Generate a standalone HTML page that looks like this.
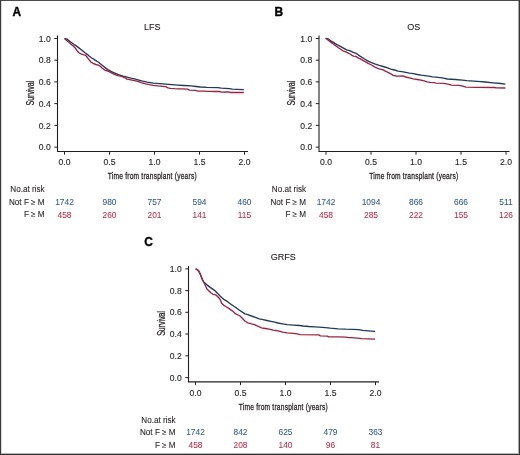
<!DOCTYPE html>
<html><head><meta charset="utf-8"><style>
html,body{margin:0;padding:0;background:#fff;}
svg{display:block;will-change:transform;font-family:"Liberation Sans",sans-serif;}
</style></head><body>
<svg width="520" height="455" viewBox="0 0 520 455">
<rect x="0" y="0" width="520" height="455" fill="#fff"/>
<text x="12.5" y="15.9" font-size="12" font-weight="bold" fill="#000" stroke="#000" stroke-width="0.35">A</text>
<text x="152.3" y="29.9" font-size="9" text-anchor="middle" fill="#231f20" stroke="#231f20" stroke-width="0.12">LFS</text>
<path d="M57.5,35.5V151.5H248" fill="none" stroke="#231f20" stroke-width="1.1"/>
<path d="M54.30,38.50H57.50" stroke="#231f20" stroke-width="1"/>
<text x="50.8" y="41.60" font-size="8.6" text-anchor="end" fill="#231f20" stroke="#231f20" stroke-width="0.12">1.0</text>
<path d="M54.30,60.20H57.50" stroke="#231f20" stroke-width="1"/>
<text x="50.8" y="63.30" font-size="8.6" text-anchor="end" fill="#231f20" stroke="#231f20" stroke-width="0.12">0.8</text>
<path d="M54.30,81.90H57.50" stroke="#231f20" stroke-width="1"/>
<text x="50.8" y="85.00" font-size="8.6" text-anchor="end" fill="#231f20" stroke="#231f20" stroke-width="0.12">0.6</text>
<path d="M54.30,103.60H57.50" stroke="#231f20" stroke-width="1"/>
<text x="50.8" y="106.70" font-size="8.6" text-anchor="end" fill="#231f20" stroke="#231f20" stroke-width="0.12">0.4</text>
<path d="M54.30,125.40H57.50" stroke="#231f20" stroke-width="1"/>
<text x="50.8" y="128.50" font-size="8.6" text-anchor="end" fill="#231f20" stroke="#231f20" stroke-width="0.12">0.2</text>
<path d="M54.30,147.20H57.50" stroke="#231f20" stroke-width="1"/>
<text x="50.8" y="150.30" font-size="8.6" text-anchor="end" fill="#231f20" stroke="#231f20" stroke-width="0.12">0.0</text>
<path d="M64.5,151.5V154.7" stroke="#231f20" stroke-width="1"/>
<text x="64.5" y="165.3" font-size="8.6" text-anchor="middle" fill="#231f20" stroke="#231f20" stroke-width="0.12">0.0</text>
<path d="M109.5,151.5V154.7" stroke="#231f20" stroke-width="1"/>
<text x="109.5" y="165.3" font-size="8.6" text-anchor="middle" fill="#231f20" stroke="#231f20" stroke-width="0.12">0.5</text>
<path d="M154.5,151.5V154.7" stroke="#231f20" stroke-width="1"/>
<text x="154.5" y="165.3" font-size="8.6" text-anchor="middle" fill="#231f20" stroke="#231f20" stroke-width="0.12">1.0</text>
<path d="M199.5,151.5V154.7" stroke="#231f20" stroke-width="1"/>
<text x="199.5" y="165.3" font-size="8.6" text-anchor="middle" fill="#231f20" stroke="#231f20" stroke-width="0.12">1.5</text>
<path d="M244.5,151.5V154.7" stroke="#231f20" stroke-width="1"/>
<text x="244.5" y="165.3" font-size="8.6" text-anchor="middle" fill="#231f20" stroke="#231f20" stroke-width="0.12">2.0</text>
<text transform="translate(152.2,179.2) scale(0.7,1)" x="0" y="0" font-size="9.5" text-anchor="middle" textLength="127.14" lengthAdjust="spacing" fill="#231f20" stroke="#231f20" stroke-width="0.3">Time from transplant (years)</text>
<text transform="translate(33.7,93.1) rotate(-90) scale(0.72,1)" x="0" y="0" font-size="10" text-anchor="middle" textLength="34.17" lengthAdjust="spacing" fill="#231f20" stroke="#231f20" stroke-width="0.28">Survival</text>
<text x="44.6" y="192.3" font-size="8.15" text-anchor="end" fill="#231f20" stroke="#231f20" stroke-width="0.08">No.at risk</text>
<text x="44.6" y="204.7" font-size="8.15" text-anchor="end" fill="#231f20" stroke="#231f20" stroke-width="0.08">Not F ≥ M</text>
<text x="44.6" y="217.1" font-size="8.15" text-anchor="end" fill="#231f20" stroke="#231f20" stroke-width="0.08">F ≥ M</text>
<text x="64.5" y="204.8" font-size="8.4" text-anchor="middle" fill="#2c5a8c" stroke="#2c5a8c" stroke-width="0.05">1742</text>
<text x="109.5" y="204.8" font-size="8.4" text-anchor="middle" fill="#2c5a8c" stroke="#2c5a8c" stroke-width="0.05">980</text>
<text x="154.5" y="204.8" font-size="8.4" text-anchor="middle" fill="#2c5a8c" stroke="#2c5a8c" stroke-width="0.05">757</text>
<text x="199.5" y="204.8" font-size="8.4" text-anchor="middle" fill="#2c5a8c" stroke="#2c5a8c" stroke-width="0.05">594</text>
<text x="244.5" y="204.8" font-size="8.4" text-anchor="middle" fill="#2c5a8c" stroke="#2c5a8c" stroke-width="0.05">460</text>
<text x="64.5" y="217.8" font-size="8.4" text-anchor="middle" fill="#c02a46" stroke="#c02a46" stroke-width="0.05">458</text>
<text x="109.5" y="217.8" font-size="8.4" text-anchor="middle" fill="#c02a46" stroke="#c02a46" stroke-width="0.05">260</text>
<text x="154.5" y="217.8" font-size="8.4" text-anchor="middle" fill="#c02a46" stroke="#c02a46" stroke-width="0.05">201</text>
<text x="199.5" y="217.8" font-size="8.4" text-anchor="middle" fill="#c02a46" stroke="#c02a46" stroke-width="0.05">141</text>
<text x="244.5" y="217.8" font-size="8.4" text-anchor="middle" fill="#c02a46" stroke="#c02a46" stroke-width="0.05">115</text>
<polyline points="64.5,38.6 66.6,38.9 69.7,41.2 72.8,43.5 75.8,45.6 78.3,47.4 80.6,49.2 82.9,51.1 85.2,53.0 87.5,54.6 89.4,56.3 91.7,58.0 94.0,59.3 95.1,60.1 98.9,62.5 100.0,63.5 103.8,66.6 107.7,69.6 111.5,71.7 115.4,73.3 119.2,74.8 123.1,76.2 126.9,77.2 130.8,78.2 134.6,78.9 138.0,79.8 142.6,81.1 147.2,82.1 153.4,83.1 159.5,83.7 165.7,84.2 171.8,84.7 178.0,85.1 183.7,85.5 191.4,85.9 196.0,86.5 200.6,87.0 206.8,87.4 217.7,87.7 221.5,88.2 229.2,88.6 232.3,89.2 236.9,89.4 243.8,89.6" fill="none" stroke="#1b3a5e" stroke-width="1.35" stroke-linejoin="round"/>
<polyline points="64.5,38.6 67.0,40.8 69.7,43.1 72.0,45.0 74.3,47.0 75.8,48.8 77.4,51.2 79.2,53.0 81.5,54.2 83.8,54.8 85.2,55.1 86.6,56.5 88.0,58.3 89.4,60.2 91.2,62.2 93.1,63.4 95.8,64.5 98.2,65.2 100.5,66.4 102.3,68.2 104.6,70.1 107.7,71.0 110.0,72.2 113.8,74.1 117.7,75.6 121.5,76.4 124.6,77.5 126.9,79.1 130.8,79.8 134.6,80.6 138.0,81.4 141.1,82.6 145.7,83.8 149.5,84.6 153.4,85.3 158.0,85.9 162.6,86.3 165.7,86.7 168.0,87.8 170.3,88.3 174.2,88.7 178.0,88.9 182.2,88.9 187.5,89.2 189.5,90.1 195.2,90.3 198.3,91.1 202.9,91.2 208.3,91.3 216.0,91.5 219.2,91.5 221.5,92.1 227.7,91.8 230.8,92.5 243.8,92.5" fill="none" stroke="#a81c3c" stroke-width="1.35" stroke-linejoin="round"/>
<text x="274.5" y="15.9" font-size="12" font-weight="bold" fill="#000" stroke="#000" stroke-width="0.35">B</text>
<text x="413.7" y="29.9" font-size="9" text-anchor="middle" fill="#231f20" stroke="#231f20" stroke-width="0.12">OS</text>
<path d="M319.0,35.5V151.5H509.5" fill="none" stroke="#231f20" stroke-width="1.1"/>
<path d="M315.80,38.50H319.00" stroke="#231f20" stroke-width="1"/>
<text x="312.3" y="41.60" font-size="8.6" text-anchor="end" fill="#231f20" stroke="#231f20" stroke-width="0.12">1.0</text>
<path d="M315.80,60.20H319.00" stroke="#231f20" stroke-width="1"/>
<text x="312.3" y="63.30" font-size="8.6" text-anchor="end" fill="#231f20" stroke="#231f20" stroke-width="0.12">0.8</text>
<path d="M315.80,81.90H319.00" stroke="#231f20" stroke-width="1"/>
<text x="312.3" y="85.00" font-size="8.6" text-anchor="end" fill="#231f20" stroke="#231f20" stroke-width="0.12">0.6</text>
<path d="M315.80,103.60H319.00" stroke="#231f20" stroke-width="1"/>
<text x="312.3" y="106.70" font-size="8.6" text-anchor="end" fill="#231f20" stroke="#231f20" stroke-width="0.12">0.4</text>
<path d="M315.80,125.40H319.00" stroke="#231f20" stroke-width="1"/>
<text x="312.3" y="128.50" font-size="8.6" text-anchor="end" fill="#231f20" stroke="#231f20" stroke-width="0.12">0.2</text>
<path d="M315.80,147.20H319.00" stroke="#231f20" stroke-width="1"/>
<text x="312.3" y="150.30" font-size="8.6" text-anchor="end" fill="#231f20" stroke="#231f20" stroke-width="0.12">0.0</text>
<path d="M326.0,151.5V154.7" stroke="#231f20" stroke-width="1"/>
<text x="326.0" y="165.3" font-size="8.6" text-anchor="middle" fill="#231f20" stroke="#231f20" stroke-width="0.12">0.0</text>
<path d="M371.0,151.5V154.7" stroke="#231f20" stroke-width="1"/>
<text x="371.0" y="165.3" font-size="8.6" text-anchor="middle" fill="#231f20" stroke="#231f20" stroke-width="0.12">0.5</text>
<path d="M416.0,151.5V154.7" stroke="#231f20" stroke-width="1"/>
<text x="416.0" y="165.3" font-size="8.6" text-anchor="middle" fill="#231f20" stroke="#231f20" stroke-width="0.12">1.0</text>
<path d="M461.0,151.5V154.7" stroke="#231f20" stroke-width="1"/>
<text x="461.0" y="165.3" font-size="8.6" text-anchor="middle" fill="#231f20" stroke="#231f20" stroke-width="0.12">1.5</text>
<path d="M506.0,151.5V154.7" stroke="#231f20" stroke-width="1"/>
<text x="506.0" y="165.3" font-size="8.6" text-anchor="middle" fill="#231f20" stroke="#231f20" stroke-width="0.12">2.0</text>
<text transform="translate(413.7,179.2) scale(0.7,1)" x="0" y="0" font-size="9.5" text-anchor="middle" textLength="127.14" lengthAdjust="spacing" fill="#231f20" stroke="#231f20" stroke-width="0.3">Time from transplant (years)</text>
<text transform="translate(295.2,93.1) rotate(-90) scale(0.72,1)" x="0" y="0" font-size="10" text-anchor="middle" textLength="34.17" lengthAdjust="spacing" fill="#231f20" stroke="#231f20" stroke-width="0.28">Survival</text>
<text x="306.1" y="192.3" font-size="8.15" text-anchor="end" fill="#231f20" stroke="#231f20" stroke-width="0.08">No.at risk</text>
<text x="306.1" y="204.7" font-size="8.15" text-anchor="end" fill="#231f20" stroke="#231f20" stroke-width="0.08">Not F ≥ M</text>
<text x="306.1" y="217.1" font-size="8.15" text-anchor="end" fill="#231f20" stroke="#231f20" stroke-width="0.08">F ≥ M</text>
<text x="326.0" y="204.8" font-size="8.4" text-anchor="middle" fill="#2c5a8c" stroke="#2c5a8c" stroke-width="0.05">1742</text>
<text x="371.0" y="204.8" font-size="8.4" text-anchor="middle" fill="#2c5a8c" stroke="#2c5a8c" stroke-width="0.05">1094</text>
<text x="416.0" y="204.8" font-size="8.4" text-anchor="middle" fill="#2c5a8c" stroke="#2c5a8c" stroke-width="0.05">866</text>
<text x="461.0" y="204.8" font-size="8.4" text-anchor="middle" fill="#2c5a8c" stroke="#2c5a8c" stroke-width="0.05">666</text>
<text x="506.0" y="204.8" font-size="8.4" text-anchor="middle" fill="#2c5a8c" stroke="#2c5a8c" stroke-width="0.05">511</text>
<text x="326.0" y="217.8" font-size="8.4" text-anchor="middle" fill="#c02a46" stroke="#c02a46" stroke-width="0.05">458</text>
<text x="371.0" y="217.8" font-size="8.4" text-anchor="middle" fill="#c02a46" stroke="#c02a46" stroke-width="0.05">285</text>
<text x="416.0" y="217.8" font-size="8.4" text-anchor="middle" fill="#c02a46" stroke="#c02a46" stroke-width="0.05">222</text>
<text x="461.0" y="217.8" font-size="8.4" text-anchor="middle" fill="#c02a46" stroke="#c02a46" stroke-width="0.05">155</text>
<text x="506.0" y="217.8" font-size="8.4" text-anchor="middle" fill="#c02a46" stroke="#c02a46" stroke-width="0.05">126</text>
<polyline points="325.6,38.3 328.0,38.8 330.7,40.8 333.8,42.7 336.8,44.6 339.9,46.2 342.6,47.6 346.6,49.8 349.7,50.6 352.8,52.2 356.6,53.7 360.0,56.1 363.8,58.5 367.7,60.8 371.5,62.7 375.4,64.2 379.2,65.4 383.1,66.5 386.9,67.7 390.8,69.1 394.6,70.0 398.0,71.1 401.8,71.6 405.7,72.4 409.5,73.2 413.4,73.7 417.2,74.5 421.1,75.2 424.9,75.7 428.8,76.2 432.6,76.8 436.0,77.2 442.2,77.8 447.5,79.0 455.2,79.5 462.2,80.2 466.8,80.7 470.0,80.8 477.7,81.4 485.4,82.0 493.1,82.8 500.8,83.5 505.4,84.1" fill="none" stroke="#1b3a5e" stroke-width="1.35" stroke-linejoin="round"/>
<polyline points="325.6,38.3 328.0,40.0 330.7,42.1 333.0,43.8 335.7,45.8 338.4,47.7 340.7,49.3 342.8,50.8 345.8,51.8 348.9,53.3 351.2,54.8 353.5,56.2 355.8,56.4 358.9,58.3 360.0,58.6 363.8,60.8 367.7,63.1 371.5,65.0 375.4,67.3 379.2,68.8 383.1,69.8 385.4,71.2 388.5,72.7 390.8,73.8 393.1,75.4 396.2,76.0 398.0,76.1 402.6,75.9 405.7,77.0 409.5,77.8 413.4,78.9 417.2,79.5 421.1,80.1 424.2,80.8 427.2,81.8 430.3,82.4 434.2,82.7 436.0,83.1 443.7,83.4 449.1,84.3 451.4,85.1 459.1,85.3 462.9,86.1 466.0,87.2 476.0,87.3 494.6,87.5 496.2,87.9 505.4,88.0" fill="none" stroke="#a81c3c" stroke-width="1.35" stroke-linejoin="round"/>
<text x="144.3" y="246.1" font-size="12" font-weight="bold" fill="#000" stroke="#000" stroke-width="0.35">C</text>
<text x="283.3" y="260.3" font-size="9" text-anchor="middle" fill="#231f20" stroke="#231f20" stroke-width="0.12">GRFS</text>
<path d="M188.5,265.9V381.9H379" fill="none" stroke="#231f20" stroke-width="1.1"/>
<path d="M185.30,268.90H188.50" stroke="#231f20" stroke-width="1"/>
<text x="181.8" y="272.00" font-size="8.6" text-anchor="end" fill="#231f20" stroke="#231f20" stroke-width="0.12">1.0</text>
<path d="M185.30,290.60H188.50" stroke="#231f20" stroke-width="1"/>
<text x="181.8" y="293.70" font-size="8.6" text-anchor="end" fill="#231f20" stroke="#231f20" stroke-width="0.12">0.8</text>
<path d="M185.30,312.30H188.50" stroke="#231f20" stroke-width="1"/>
<text x="181.8" y="315.40" font-size="8.6" text-anchor="end" fill="#231f20" stroke="#231f20" stroke-width="0.12">0.6</text>
<path d="M185.30,334.00H188.50" stroke="#231f20" stroke-width="1"/>
<text x="181.8" y="337.10" font-size="8.6" text-anchor="end" fill="#231f20" stroke="#231f20" stroke-width="0.12">0.4</text>
<path d="M185.30,355.80H188.50" stroke="#231f20" stroke-width="1"/>
<text x="181.8" y="358.90" font-size="8.6" text-anchor="end" fill="#231f20" stroke="#231f20" stroke-width="0.12">0.2</text>
<path d="M185.30,377.60H188.50" stroke="#231f20" stroke-width="1"/>
<text x="181.8" y="380.70" font-size="8.6" text-anchor="end" fill="#231f20" stroke="#231f20" stroke-width="0.12">0.0</text>
<path d="M195.5,381.9V385.09999999999997" stroke="#231f20" stroke-width="1"/>
<text x="195.5" y="395.70000000000005" font-size="8.6" text-anchor="middle" fill="#231f20" stroke="#231f20" stroke-width="0.12">0.0</text>
<path d="M240.5,381.9V385.09999999999997" stroke="#231f20" stroke-width="1"/>
<text x="240.5" y="395.70000000000005" font-size="8.6" text-anchor="middle" fill="#231f20" stroke="#231f20" stroke-width="0.12">0.5</text>
<path d="M285.5,381.9V385.09999999999997" stroke="#231f20" stroke-width="1"/>
<text x="285.5" y="395.70000000000005" font-size="8.6" text-anchor="middle" fill="#231f20" stroke="#231f20" stroke-width="0.12">1.0</text>
<path d="M330.5,381.9V385.09999999999997" stroke="#231f20" stroke-width="1"/>
<text x="330.5" y="395.70000000000005" font-size="8.6" text-anchor="middle" fill="#231f20" stroke="#231f20" stroke-width="0.12">1.5</text>
<path d="M375.5,381.9V385.09999999999997" stroke="#231f20" stroke-width="1"/>
<text x="375.5" y="395.70000000000005" font-size="8.6" text-anchor="middle" fill="#231f20" stroke="#231f20" stroke-width="0.12">2.0</text>
<text transform="translate(283.2,409.6) scale(0.7,1)" x="0" y="0" font-size="9.5" text-anchor="middle" textLength="127.14" lengthAdjust="spacing" fill="#231f20" stroke="#231f20" stroke-width="0.3">Time from transplant (years)</text>
<text transform="translate(164.7,323.5) rotate(-90) scale(0.72,1)" x="0" y="0" font-size="10" text-anchor="middle" textLength="34.17" lengthAdjust="spacing" fill="#231f20" stroke="#231f20" stroke-width="0.28">Survival</text>
<text x="175.6" y="422.70000000000005" font-size="8.15" text-anchor="end" fill="#231f20" stroke="#231f20" stroke-width="0.08">No.at risk</text>
<text x="175.6" y="435.1" font-size="8.15" text-anchor="end" fill="#231f20" stroke="#231f20" stroke-width="0.08">Not F ≥ M</text>
<text x="175.6" y="447.5" font-size="8.15" text-anchor="end" fill="#231f20" stroke="#231f20" stroke-width="0.08">F ≥ M</text>
<text x="195.5" y="435.20000000000005" font-size="8.4" text-anchor="middle" fill="#2c5a8c" stroke="#2c5a8c" stroke-width="0.05">1742</text>
<text x="240.5" y="435.20000000000005" font-size="8.4" text-anchor="middle" fill="#2c5a8c" stroke="#2c5a8c" stroke-width="0.05">842</text>
<text x="285.5" y="435.20000000000005" font-size="8.4" text-anchor="middle" fill="#2c5a8c" stroke="#2c5a8c" stroke-width="0.05">625</text>
<text x="330.5" y="435.20000000000005" font-size="8.4" text-anchor="middle" fill="#2c5a8c" stroke="#2c5a8c" stroke-width="0.05">479</text>
<text x="375.5" y="435.20000000000005" font-size="8.4" text-anchor="middle" fill="#2c5a8c" stroke="#2c5a8c" stroke-width="0.05">363</text>
<text x="195.5" y="448.20000000000005" font-size="8.4" text-anchor="middle" fill="#c02a46" stroke="#c02a46" stroke-width="0.05">458</text>
<text x="240.5" y="448.20000000000005" font-size="8.4" text-anchor="middle" fill="#c02a46" stroke="#c02a46" stroke-width="0.05">208</text>
<text x="285.5" y="448.20000000000005" font-size="8.4" text-anchor="middle" fill="#c02a46" stroke="#c02a46" stroke-width="0.05">140</text>
<text x="330.5" y="448.20000000000005" font-size="8.4" text-anchor="middle" fill="#c02a46" stroke="#c02a46" stroke-width="0.05">96</text>
<text x="375.5" y="448.20000000000005" font-size="8.4" text-anchor="middle" fill="#c02a46" stroke="#c02a46" stroke-width="0.05">81</text>
<polyline points="195.6,269.0 197.3,269.6 198.6,270.9 199.9,273.3 201.2,276.5 202.5,279.8 203.9,282.2 205.2,283.3 207.2,285.1 209.8,287.1 213.1,289.4 215.0,290.8 217.6,293.4 220.3,296.3 223.6,299.3 226.9,301.2 229.5,303.2 232.8,305.5 236.1,307.8 239.4,310.3 242.7,312.4 245.0,313.8 247.7,314.7 251.5,316.0 255.4,317.4 259.2,318.8 263.1,319.7 266.9,320.5 270.8,321.4 274.6,322.2 278.0,323.0 282.6,323.9 287.2,324.7 293.4,325.1 299.5,325.5 303.4,326.0 308.8,326.5 315.0,326.9 322.7,327.4 330.4,328.2 338.1,328.8 345.8,329.2 352.7,329.4 358.8,329.6 362.7,330.4 368.1,330.8 375.0,331.4" fill="none" stroke="#1b3a5e" stroke-width="1.35" stroke-linejoin="round"/>
<polyline points="195.6,269.0 197.3,269.6 198.6,270.9 199.9,273.3 201.2,276.5 202.5,279.8 203.9,282.5 204.5,283.8 205.8,286.4 206.5,288.4 208.5,290.4 211.1,293.0 213.1,294.3 215.5,294.8 217.0,295.9 219.0,297.9 220.6,300.5 221.6,303.2 223.6,305.1 226.2,306.8 228.8,308.4 231.5,310.4 233.5,311.7 235.4,313.7 238.1,315.0 240.0,316.0 242.3,318.2 244.6,320.8 247.7,322.8 251.5,323.9 254.6,324.7 257.7,326.2 261.5,327.8 265.4,328.5 269.2,329.1 273.1,330.1 276.9,330.6 278.0,330.8 282.6,332.2 287.2,332.9 293.4,333.4 297.2,333.9 300.3,334.7 318.8,334.9 320.4,335.8 327.3,336.1 328.8,336.8 338.1,336.8 345.8,337.1 348.8,337.6 351.2,337.6 357.3,338.1 361.9,338.7 368.1,338.8 375.0,339.2" fill="none" stroke="#a81c3c" stroke-width="1.35" stroke-linejoin="round"/>
<path d="M0,0.5H520" stroke="#4a4a4a" stroke-width="1"/>
<path d="M0.5,0V455" stroke="#3a3a3a" stroke-width="1"/>
<path d="M1.5,1V454" stroke="#d8d8d8" stroke-width="1"/>
<path d="M518.5,1V454" stroke="#a8a8a8" stroke-width="1"/>
<path d="M519.5,0V455" stroke="#353535" stroke-width="1"/>
<path d="M1,453.5H519" stroke="#b8b8b8" stroke-width="1"/>
<path d="M0,454.5H520" stroke="#303030" stroke-width="1"/>
</svg>
</body></html>
